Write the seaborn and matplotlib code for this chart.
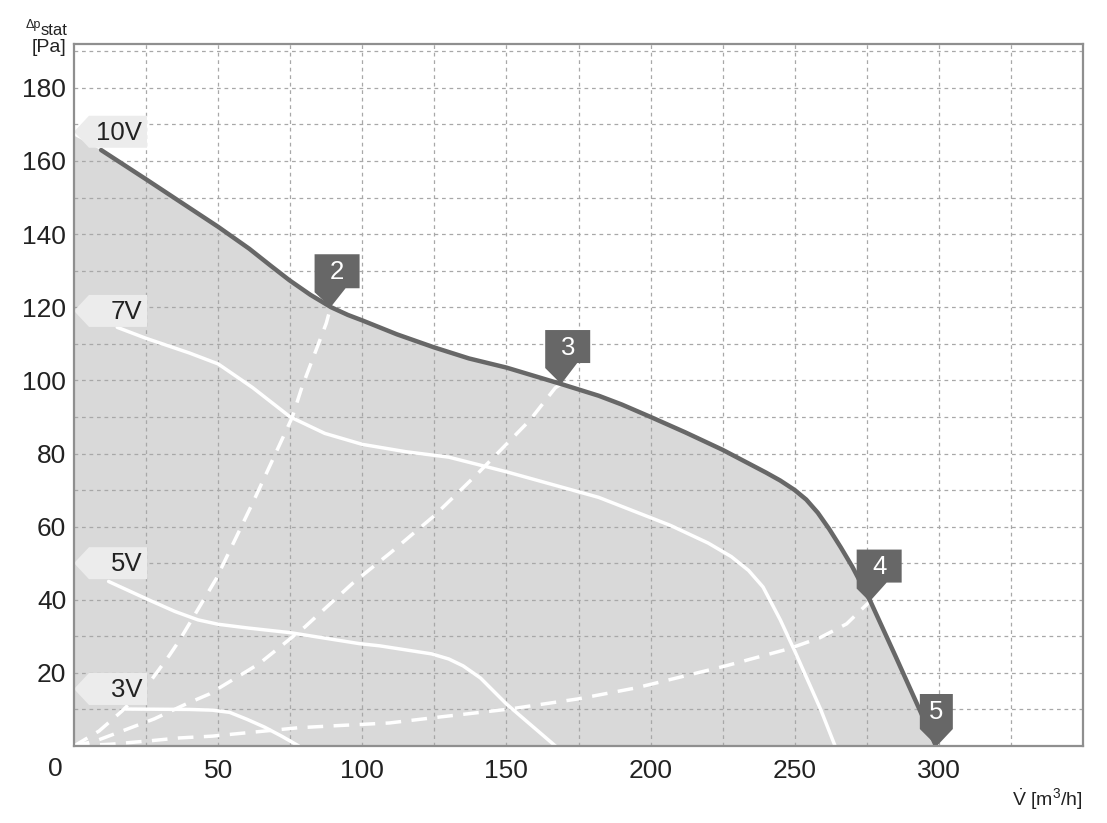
import numpy as np
import pandas as pd
import matplotlib.pyplot as plt
import matplotlib.transforms as mtransforms
from matplotlib.patches import Polygon
import seaborn as sns

# fan curves, volume flow [m3/h] vs static pressure [Pa]
x_10v = [0, 9.4, 25, 50, 60.8, 68, 74.7, 82, 89.2, 95, 100, 112, 125, 137, 150, 169, 182, 190, 200, 212, 225, 240, 245, 250, 254, 258, 262, 266, 270, 276, 285, 299]
y_10v = [167, 163, 155, 142, 136, 131.5, 127.4, 123.4, 120, 117.9, 116.4, 112.6, 109, 106, 103.5, 99, 95.8, 93.4, 90, 85.8, 81, 74.8, 72.6, 70, 67.4, 63.8, 59.3, 54.3, 49, 40, 24.5, 0]

x_7v = [15, 25, 40, 50, 62, 75, 87, 100, 115, 130, 150, 182, 207, 220, 228, 234, 239, 245, 250, 259, 264]
y_7v = [114.5, 111.5, 107.5, 104.5, 98, 90, 85.5, 82.5, 80.5, 79, 75, 68, 60.3, 55.5, 51.8, 48, 43.5, 34.5, 26, 10, 0]

x_5v = [12, 25, 35, 43, 50, 60, 75, 99, 106, 124, 130, 135, 141, 150, 167]
y_5v = [45, 40.3, 36.8, 34.5, 33.3, 32.3, 31, 28, 27.4, 25.2, 23.8, 21.9, 18.6, 11.5, 0]

x_3v = [18, 40, 48, 54, 60, 66, 72, 78]
y_3v = [10.1, 10, 9.8, 9.2, 7.3, 5.2, 2.7, 0]

# system curves (dashed) to operating points 2, 3, 4
x_sys2 = [0, 8.7, 16.7, 25.3, 33, 36.5, 49.3, 62, 75.7, 79, 87.5, 89]
y_sys2 = [0, 4.1, 9.6, 16.4, 24.7, 28.8, 45.7, 66.5, 89.9, 98, 115.6, 120]

x_sys3 = [0, 7.6, 16.7, 27.8, 38.9, 46.9, 64.2, 80, 96.5, 110, 125, 140, 158, 167, 169]
y_sys3 = [0, 1.4, 4.1, 7.4, 11.5, 14.2, 22.5, 32.5, 44.4, 53, 63, 74.5, 89, 98, 99]

x_sys4 = [0, 13, 26, 36.5, 48, 78, 89.6, 109.4, 124.3, 151, 175, 195, 209, 226, 248, 258.7, 268, 276]
y_sys4 = [0, 0.5, 1.4, 2.2, 2.7, 5, 5.5, 6.3, 7.7, 10.1, 12.9, 15.9, 18.6, 21.9, 26.6, 29.6, 33.4, 39.5]

volt_labels = ["10V", "7V", "5V", "3V"]
volt_label_y = [168, 119, 50, 15.6]

point_names = ["2", "3", "4", "5"]
point_x = [89, 169, 276, 299.3]
point_y = [120, 99, 39.5, 0]

x_ticks = [50, 100, 150, 200, 250, 300]
y_ticks = [20, 40, 60, 80, 100, 120, 140, 160, 180]

sns.set_style("white")
plt.rcParams['font.family'] = ['Liberation Sans', 'DejaVu Sans']
plt.rcParams['mathtext.fontset'] = 'custom'
plt.rcParams['mathtext.rm'] = 'Liberation Sans'
plt.rcParams['mathtext.it'] = 'Liberation Sans:italic'

W, H = 1107, 823
fig = plt.figure(figsize=(W / 100, H / 100), dpi=100)
ax = fig.add_axes([74 / W, 1 - 746 / H, (1083 - 74) / W, (746 - 44) / H])
ax.set_xlim(0, 350)
ax.set_ylim(0, 192)

dark = '#676767'
txt = '#222222'
ax.fill_between(x_10v, y_10v, 0, color='#d9d9d9', lw=0, zorder=1)

curves = pd.concat([
    pd.DataFrame({'V': x_10v[1:], 'p': y_10v[1:], 'c': '10V'}),
    pd.DataFrame({'V': x_7v, 'p': y_7v, 'c': '7V'}),
    pd.DataFrame({'V': x_5v, 'p': y_5v, 'c': '5V'}),
    pd.DataFrame({'V': x_3v, 'p': y_3v, 'c': '3V'}),
])
for name in ['7V', '5V', '3V']:
    d = curves[curves.c == name]
    sns.lineplot(data=d, x='V', y='p', ax=ax, color='white', lw=2.5,
                 estimator=None, sort=False, zorder=3,
                 solid_joinstyle='round')
for xs, ys in [(x_sys2, y_sys2), (x_sys3, y_sys3), (x_sys4, y_sys4)]:
    sns.lineplot(x=xs, y=ys, ax=ax, color='white', lw=2.5, estimator=None,
                 sort=False, linestyle=(0, (4.5, 3)), zorder=3)
d = curves[curves.c == '10V']
sns.lineplot(data=d, x='V', y='p', ax=ax, color=dark, lw=3.2,
             estimator=None, sort=False, zorder=3.5, solid_joinstyle='round')

# grid
ax.set_xticks(x_ticks)
ax.set_xticks(np.arange(25, 350, 50), minor=True)
ax.set_yticks(y_ticks)
ax.set_yticks(np.arange(10, 192, 20), minor=True)
ax.set_axisbelow(False)
ax.grid(which='both', color='#a8a8a8', lw=0.9, linestyle=(0, (3, 3)))
ax.tick_params(which='both', length=0)
ax.tick_params(axis='y', labelsize=19, labelcolor=txt, pad=5.5)
ax.tick_params(axis='x', labelsize=19, labelcolor=txt, pad=9)
ax.set_xlabel('')
ax.set_ylabel('')
for s in ax.spines.values():
    s.set_color('#8f8f8f')
    s.set_linewidth(1.6)
    s.set_zorder(6)


def pix_at(x, y):
    return mtransforms.Affine2D() + mtransforms.ScaledTranslation(x, y, ax.transData)


# voltage tags on the left
for lab, yv in zip(volt_labels, volt_label_y):
    tr = pix_at(0, yv)
    verts = [(0, 0), (15, 16), (73, 16), (73, -16), (15, -16)]
    ax.add_patch(Polygon(verts, closed=True, transform=tr, fc='#ececec',
                         ec='none', zorder=4, clip_on=False))
    ax.text(68, -1, lab, transform=tr, ha='right', va='center',
            fontsize=18.5, color=txt, zorder=4.5)

# operating point tags
shapes = {
    '2': ([(-16, 53), (29, 53), (29, 19), (15, 19), (0, 0), (-16, 15)], (6.5, 35)),
    '3': ([(-16, 54), (29, 54), (29, 21), (16, 21), (0, 0), (-16, 16)], (6.5, 36)),
    '4': ([(-13, 52), (32, 52), (32, 19), (17, 19), (0, 0), (-13, 13)], (9.5, 35)),
    '5': ([(-17, 52), (16, 52), (16, 17), (0, 0), (-17, 17)], (-0.5, 34)),
}
for nm, px_, py_ in zip(point_names, point_x, point_y):
    verts, (tx, ty) = shapes[nm]
    tr = pix_at(px_, py_)
    ax.add_patch(Polygon(verts, closed=True, transform=tr, fc=dark,
                         ec='none', zorder=5, clip_on=False))
    ax.text(tx, ty, nm, transform=tr, ha='center', va='center',
            fontsize=18.5, color='white', zorder=5.5)

# origin label and axis titles
ax.text(-19, -23, '0', transform=pix_at(0, 0), ha='center', va='center',
        fontsize=19, color=txt)
fig.text(26 / W, 1 - 28 / H, 'Δp', fontsize=9, color=txt, ha='left', va='baseline')
fig.text(41 / W, 1 - 35 / H, 'stat', fontsize=12, color=txt, ha='left', va='baseline')
fig.text(32 / W, 1 - 52 / H, '[Pa]', fontsize=14, color=txt, ha='left', va='baseline')
fig.text(1083 / W, 1 - 806 / H, r'$\dot{\mathrm{V}}$ [m$^3$/h]', fontsize=14,
         color=txt, ha='right', va='baseline')

fig.savefig('out.png', dpi=100)
